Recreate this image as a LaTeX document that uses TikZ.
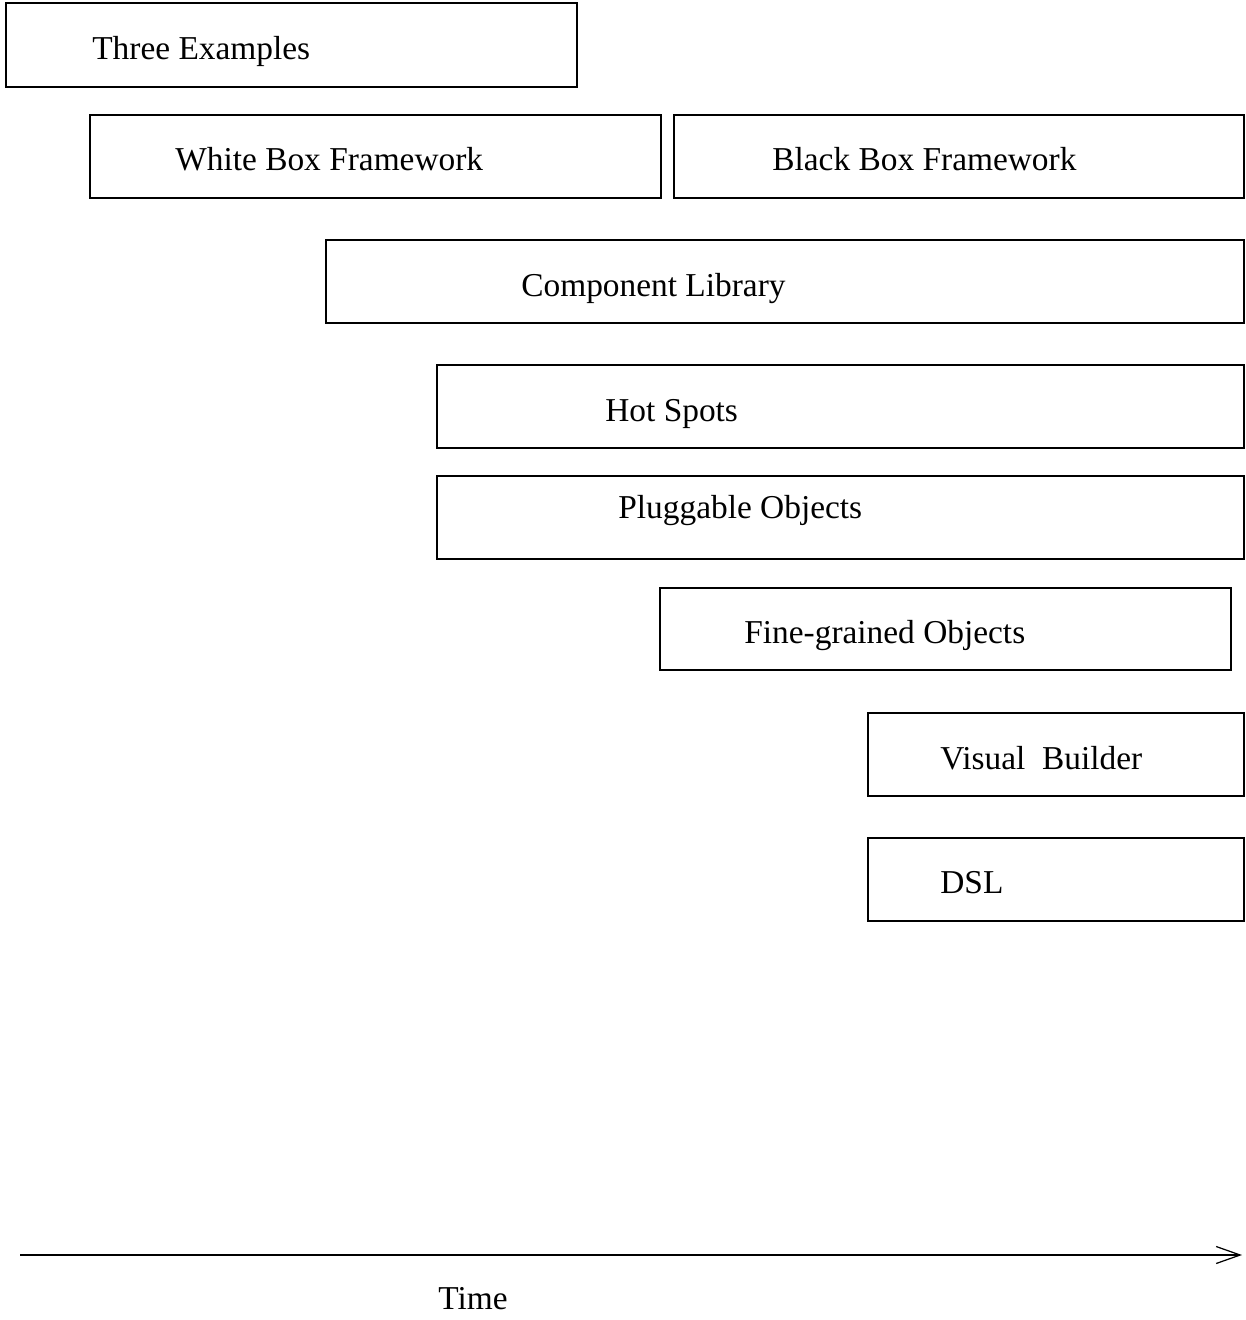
\documentclass[tikz,border=0pt]{standalone}
\usepackage{fontspec}
\setmainfont{Liberation Serif}
\usetikzlibrary{arrows.meta}
\begin{document}
\begin{tikzpicture}[x=0.02cm,y=-0.02cm,
  box/.style={draw,line width=0.7pt,inner sep=0pt},
  lbl/.style={anchor=base west,inner sep=0pt,font=\fontsize{19}{22}\selectfont},
  >={Straight Barb[length=4.8mm,width=3.4mm]}]
\useasboundingbox (0,0) rectangle (1246,1320);
\node[box,minimum width=11.42cm,minimum height=1.68cm] (te) at (291.5,45) {};
\node[lbl] (teT) at (92,59) {Three Examples};
\node[box,minimum width=11.42cm,minimum height=1.66cm] (wb) at (375.5,156.5) {};
\node[lbl] (wbT) at (175,170) {White Box Framework};
\node[box,minimum width=11.40cm,minimum height=1.66cm] (bb) at (959,156.5) {};
\node[lbl] (bbT) at (772,170) {Black Box Framework};
\node[box,minimum width=18.36cm,minimum height=1.66cm] (cl) at (785,281.5) {};
\node[lbl] (clT) at (521,296) {Component Library};
\node[box,minimum width=16.14cm,minimum height=1.66cm] (hs) at (840.5,406.5) {};
\node[lbl] (hsT) at (605,421) {Hot Spots};
\node[box,minimum width=16.14cm,minimum height=1.66cm] (po) at (840.5,517.5) {};
\node[lbl] (poT) at (618,518) {Pluggable Objects};
\node[box,minimum width=11.42cm,minimum height=1.64cm] (fg) at (945.5,629) {};
\node[lbl] (fgT) at (744,643) {Fine-grained Objects};
\node[box,minimum width=7.52cm,minimum height=1.66cm] (vb) at (1056,754.5) {};
\node[lbl] (vbT) at (940,769) {Visual\ \ Builder};
\node[box,minimum width=7.52cm,minimum height=1.66cm] (dsl) at (1056,879.5) {};
\node[lbl] (dslT) at (940,893) {DSL};
%\draw (0,1200) -- (1246,1200);
\coordinate (t0) at (20,1255);
\coordinate (t1) at (1242,1255);
\draw[->,line width=0.7pt] (t0) -- (t1);
\node[lbl] (time) at (438,1309) {Time};
\end{tikzpicture}
\end{document}
